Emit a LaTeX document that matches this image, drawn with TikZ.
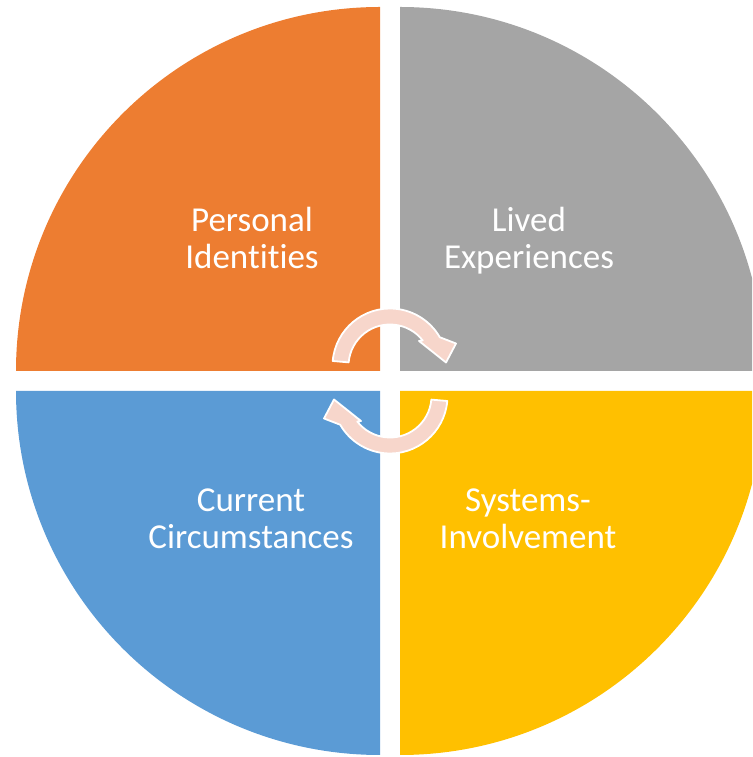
\documentclass[tikz,border=0pt]{standalone}
\usepackage{fontspec}
\setmainfont{Carlito}[Ligatures={NoCommon}]
\definecolor{qorange}{HTML}{ED7D31}
\definecolor{qgray}{HTML}{A5A5A5}
\definecolor{qblue}{HTML}{5B9BD5}
\definecolor{qyellow}{HTML}{FFC000}
\definecolor{qpink}{HTML}{F7D6CB}
\begin{document}
\begin{tikzpicture}[x=1pt,y=1pt,
  lbl/.style={text=white,align=center,anchor=base,inner sep=0pt,
    font=\fontsize{35}{36.6}\selectfont},
  cyc/.style={fill=qpink,draw=white,line width=1.8pt,line join=round}]
\useasboundingbox (0,0) rectangle (752,757);
\clip (0,0) rectangle (752,757);
% quadrants
\fill[qorange] (380,386) -- (16,386) arc[start angle=180,end angle=90,radius=364] -- cycle;
\fill[qgray] (400,386) -- (400,750) arc[start angle=90,end angle=0,radius=364] -- cycle;
\fill[qblue] (380,366) -- (380,2) arc[start angle=270,end angle=180,radius=364] -- cycle;
\fill[qyellow] (400,366) -- (764,366) arc[start angle=0,end angle=-90,radius=364] -- cycle;
% labels (base anchor = baseline of last line)
\node[lbl] (pi) at (252,488.7) {Personal\\Identities};
\node[lbl] (le) at (529,488.7) {Lived\\Experiences};
\node[lbl] (cc) at (251,208.7) {Current\\Circumstances};
\node[lbl] (si) at (528,208.7) {Systems-\\Involvement};
% cycle arrows
\path[cyc] ([shift={(175:57.5)}]390,391) arc[start angle=175,end angle=30,radius=57.5]
  -- (456,413.5) -- (446,394.5) -- (419,416)
  -- ([shift={(38:41.5)}]390,391) arc[start angle=38,end angle=175,radius=41.5] -- cycle;
\path[cyc,rotate around={180:(390,376)}] ([shift={(175:57.5)}]390,391) arc[start angle=175,end angle=30,radius=57.5]
  -- (456,413.5) -- (446,394.5) -- (419,416)
  -- ([shift={(38:41.5)}]390,391) arc[start angle=38,end angle=175,radius=41.5] -- cycle;
\end{tikzpicture}
\end{document}
